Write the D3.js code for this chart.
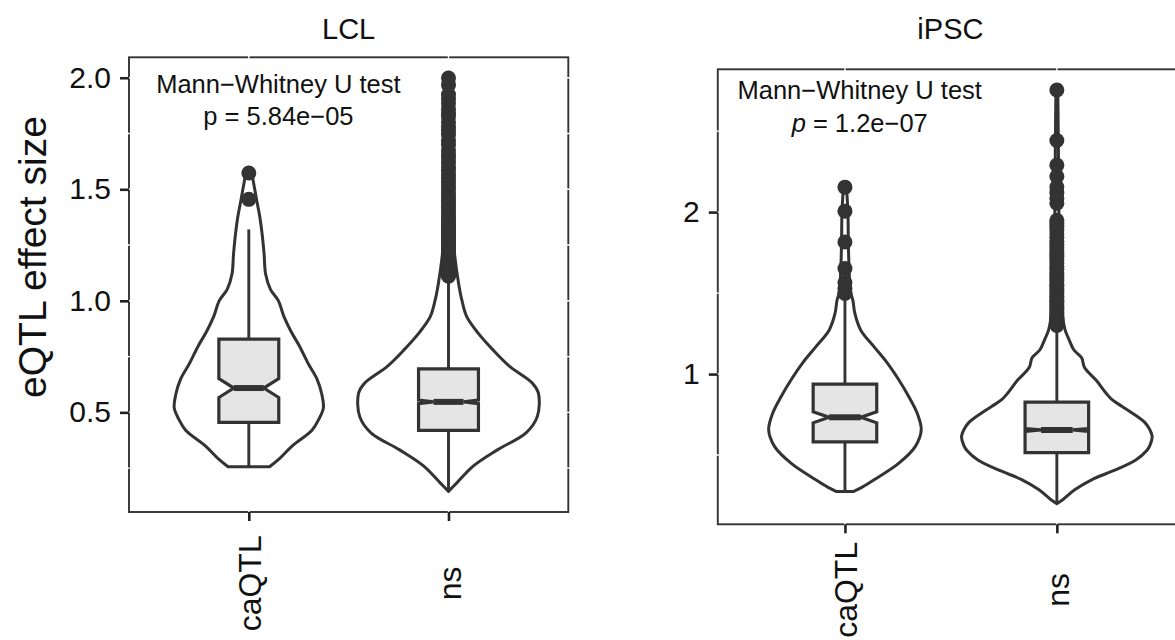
<!DOCTYPE html>
<html>
<head>
<meta charset="utf-8">
<script src="https://cdn.jsdelivr.net/npm/d3@7"></script>
<style>
  html, body { margin: 0; padding: 0; background: #fff; }
  svg { display: block; }
</style>
</head>
<body>
<svg id="chart" width="1175" height="640"></svg>
<script>
// ---- data -------------------------------------------------------------
const panels = ["LCL", "iPSC"];
const categories = ["caQTL", "ns"];

// box statistics: [lower whisker, Q1, median, Q3, upper whisker]
const lclCaqtlBox = [0.256, 0.455, 0.609, 0.828, 1.320];
const lclNsBox    = [0.146, 0.419, 0.547, 0.695, 1.100];
const ipscCaqtlBox = [0.275, 0.581, 0.733, 0.938, 1.470];
const ipscNsBox    = [0.200, 0.515, 0.655, 0.827, 1.290];

// number of eQTLs per group (sets the notch height)
const lclCounts  = [193, 3000];
const ipscCounts = [275, 3000];

// outlying effect sizes
const lclCaqtlOutliers = [1.455, 1.573];
const lclNsOutliers = [
  1.110, 1.115, 1.120, 1.125, 1.130, 1.135, 1.140, 1.145, 1.150, 1.155,
  1.160, 1.165, 1.170, 1.180, 1.190, 1.200, 1.210, 1.220, 1.230, 1.240,
  1.250, 1.260, 1.270, 1.280, 1.290, 1.300, 1.310, 1.320, 1.330, 1.340,
  1.350, 1.360, 1.375, 1.390, 1.405, 1.420, 1.435, 1.450, 1.465, 1.480,
  1.500, 1.515, 1.530, 1.550, 1.565, 1.585, 1.600, 1.620, 1.640, 1.655,
  1.675, 1.700, 1.720, 1.745, 1.765, 1.780, 1.800, 1.825, 1.840, 1.860,
  1.885, 1.905, 1.925, 1.968, 1.999
];
const ipscCaqtlOutliers = [1.497, 1.530, 1.563, 1.651, 1.815, 2.006, 2.154];
const ipscNsOutliers = [
  1.300, 1.310, 1.320, 1.330, 1.340, 1.350, 1.360, 1.375, 1.385, 1.400,
  1.410, 1.425, 1.440, 1.450, 1.465, 1.480, 1.495, 1.510, 1.525, 1.540,
  1.555, 1.575, 1.590, 1.610, 1.625, 1.645, 1.665, 1.685, 1.705, 1.725,
  1.745, 1.760, 1.780, 1.800, 1.820, 1.845, 1.865, 1.890, 1.910, 1.930,
  1.950, 2.055, 2.085, 2.120, 2.155, 2.220, 2.290, 2.442, 2.754
];

// violin outlines: [effect size, relative density]
const lclCaqtlViolin = [
  [0.256, 0.231], [0.29, 0.335], [0.35, 0.484], [0.42, 0.703], [0.47, 0.780],
  [0.52, 0.830], [0.58, 0.813], [0.65, 0.758], [0.72, 0.659], [0.80, 0.560],
  [0.86, 0.473], [0.93, 0.390], [1.00, 0.330], [1.05, 0.242], [1.12, 0.187],
  [1.21, 0.170], [1.30, 0.148], [1.38, 0.121], [1.45, 0.088], [1.50, 0.066],
  [1.573, 0.033]
];
const lclNsViolin = [
  [0.146, 0.0], [0.184, 0.093], [0.259, 0.275], [0.333, 0.549], [0.408, 0.863],
  [0.482, 0.989], [0.587, 1.0], [0.631, 0.934], [0.706, 0.681], [0.78, 0.495],
  [0.855, 0.330], [0.929, 0.203], [1.004, 0.148], [1.079, 0.112], [1.20, 0.070],
  [1.30, 0.050], [1.50, 0.035], [1.70, 0.025], [1.90, 0.020], [1.999, 0.012]
];
const ipscCaqtlViolin = [
  [0.275, 0.093], [0.30, 0.177], [0.347, 0.306], [0.45, 0.566], [0.552, 0.737],
  [0.655, 0.800], [0.758, 0.758], [0.86, 0.670], [0.963, 0.566], [1.066, 0.447],
  [1.168, 0.306], [1.271, 0.166], [1.374, 0.104], [1.456, 0.083], [1.50, 0.062],
  [1.60, 0.047], [1.80, 0.036], [2.00, 0.031], [2.154, 0.016]
];
const ipscNsViolin = [
  [0.200, 0.0], [0.224, 0.062], [0.285, 0.187], [0.35, 0.374], [0.40, 0.580],
  [0.47, 0.828], [0.53, 0.945], [0.56, 0.976], [0.614, 1.0], [0.655, 0.976],
  [0.70, 0.924], [0.76, 0.789], [0.80, 0.685], [0.84, 0.582], [0.88, 0.519],
  [0.96, 0.415], [1.04, 0.290], [1.10, 0.260], [1.15, 0.177], [1.21, 0.130],
  [1.27, 0.088], [1.35, 0.062], [1.50, 0.042], [1.70, 0.031], [2.00, 0.021],
  [2.40, 0.016], [2.754, 0.010]
];

// axis breaks and annotation text
const lclTicks = [0.5, 1.0, 1.5, 2.0];
const lclMinorTicks = [0.25, 0.75, 1.25, 1.75];
const ipscTicks = [1, 2];
const ipscMinorTicks = [0.5, 1.5, 2.5];
const testName = "Mann\u2212Whitney U test";
const pValues = ["5.84e\u221205", "1.2e\u221207"];
const yTitle = "eQTL effect size";

// ---- assemble per-panel inputs ----------------------------------------
const panelData = {
  LCL: {
    boxes: [lclCaqtlBox, lclNsBox], counts: lclCounts,
    outliers: [lclCaqtlOutliers, lclNsOutliers],
    violins: [lclCaqtlViolin, lclNsViolin],
    ticks: lclTicks, minor: lclMinorTicks, fmt: d3.format(".1f"),
    p: pValues[0], italicP: false
  },
  iPSC: {
    boxes: [ipscCaqtlBox, ipscNsBox], counts: ipscCounts,
    outliers: [ipscCaqtlOutliers, ipscNsOutliers],
    violins: [ipscCaqtlViolin, ipscNsViolin],
    ticks: ipscTicks, minor: ipscMinorTicks, fmt: d3.format("d"),
    p: pValues[1], italicP: true
  }
};

// ---- layout -----------------------------------------------------------
const FONT = "'Liberation Sans', Arial, Helvetica, sans-serif";
const INK = "#333333";
const layout = {
  LCL:  { left: 129,   right: 568.3, top: 57.3, bottom: 512,   noteX: 278.4, noteY: 35.4, xLabY: 71.3 },
  iPSC: { left: 717.8, right: 1184,  top: 69.3, bottom: 524.3, noteX: 859.7, noteY: 30.0, xLabY: 65.5 }
};

const svg = d3.select("#chart");

svg.append("text")
  .attr("transform", "translate(46,257) rotate(-90)")
  .attr("text-anchor", "middle")
  .style("font-family", FONT)
  .style("font-size", "39px")
  .attr("fill", "#111")
  .text(yTitle);

panels.forEach(name => {
  const L = layout[name];
  const D = panelData[name];
  const g = svg.append("g");

  // y domain: data range expanded by 5% on both sides
  const allVals = [];
  D.boxes.forEach(b => allVals.push(...b));
  D.outliers.forEach(o => allVals.push(...o));
  D.violins.forEach(v => v.forEach(p => allVals.push(p[0])));
  const [lo, hi] = d3.extent(allVals);
  const pad = (hi - lo) * 0.05;
  const y = d3.scaleLinear().domain([lo - pad, hi + pad]).range([L.bottom, L.top]);
  const x = d3.scalePoint().domain(categories).range([L.left, L.right]).padding(0.6);
  const step = x.step();
  const halfWidth = d3.scaleLinear().domain([0, 1]).range([0, 0.45 * step]);
  const boxW = 0.3 * step;

  // panel background with outline
  g.append("rect")
    .attr("x", L.left).attr("y", L.top)
    .attr("width", L.right - L.left).attr("height", L.bottom - L.top)
    .attr("fill", "#fff").attr("stroke", INK).attr("stroke-width", 1.9);

  // white grid lines (visible where they cross the outline)
  const grid = g.append("g").attr("stroke", "#fff").attr("stroke-width", 1.4);
  D.ticks.concat(D.minor).forEach(v => {
    const yy = y(v);
    if (yy < L.top || yy > L.bottom) return;
    grid.append("line").attr("x1", L.left - 2).attr("x2", L.right + 2)
      .attr("y1", yy).attr("y2", yy);
  });
  categories.forEach(c => {
    grid.append("line").attr("y1", L.top - 2).attr("y2", L.bottom + 2)
      .attr("x1", x(c)).attr("x2", x(c));
  });

  // violins
  categories.forEach((c, i) => {
    const cx = x(c);
    const area = d3.area()
      .curve(d3.curveCatmullRom.alpha(0.5))
      .y(d => y(d[0]))
      .x0(d => cx - halfWidth(d[1]))
      .x1(d => cx + halfWidth(d[1]));
    g.append("path")
      .datum(D.violins[i])
      .attr("d", area)
      .attr("fill", "#fff")
      .attr("stroke", INK)
      .attr("stroke-width", 3)
      .attr("stroke-linejoin", "round");
  });

  // notched boxplots
  categories.forEach((c, i) => {
    const cx = x(c);
    const [wLo, q1, med, q3, wHi] = D.boxes[i];
    const notch = 1.58 * (q3 - q1) / Math.sqrt(D.counts[i]);
    const hw = boxW / 2, nw = boxW / 4;

    g.append("line")
      .attr("x1", cx).attr("x2", cx).attr("y1", y(q3)).attr("y2", y(wHi))
      .attr("stroke", INK).attr("stroke-width", 2.9);
    g.append("line")
      .attr("x1", cx).attr("x2", cx).attr("y1", y(q1)).attr("y2", y(wLo))
      .attr("stroke", INK).attr("stroke-width", 2.9);

    const pts = [
      [cx - hw, y(q3)], [cx + hw, y(q3)], [cx + hw, y(med + notch)], [cx + nw, y(med)],
      [cx + hw, y(med - notch)], [cx + hw, y(q1)], [cx - hw, y(q1)], [cx - hw, y(med - notch)],
      [cx - nw, y(med)], [cx - hw, y(med + notch)]
    ];
    g.append("path")
      .attr("d", "M" + pts.map(p => p.join(",")).join("L") + "Z")
      .attr("fill", "#e5e5e5")
      .attr("stroke", INK)
      .attr("stroke-width", 3.2)
      .attr("stroke-linejoin", "miter");
    g.append("line")
      .attr("x1", cx - nw).attr("x2", cx + nw).attr("y1", y(med)).attr("y2", y(med))
      .attr("stroke", INK).attr("stroke-width", 6);

    g.append("g").selectAll("circle")
      .data(D.outliers[i])
      .join("circle")
      .attr("cx", cx).attr("cy", d => y(d)).attr("r", 7.5)
      .attr("fill", INK);
  });

  // y axis
  const yAxis = g.append("g")
    .attr("transform", `translate(${L.left},0)`)
    .call(d3.axisLeft(y).tickValues(D.ticks).tickFormat(D.fmt).tickSize(9).tickPadding(9));
  yAxis.select(".domain").remove();
  yAxis.selectAll(".tick line").attr("stroke", "#222").attr("stroke-width", 2.6);
  yAxis.selectAll(".tick text")
    .attr("fill", "#111").style("font-family", FONT).style("font-size", "30px");

  // x axis
  const xAxis = g.append("g")
    .attr("transform", `translate(0,${L.bottom})`)
    .call(d3.axisBottom(x).tickSize(9));
  xAxis.select(".domain").remove();
  xAxis.selectAll(".tick line").attr("stroke", "#222").attr("stroke-width", 2.6);
  xAxis.selectAll(".tick text")
    .attr("fill", "#111").style("font-family", FONT).style("font-size", "32px")
    .attr("text-anchor", "middle")
    .attr("x", 0).attr("y", 0).attr("dy", "0.36em")
    .attr("transform", `translate(0,${L.xLabY}) rotate(-90)`);

  // panel strip title
  svg.append("text")
    .attr("x", (L.left + Math.min(L.right, 1183)) / 2).attr("y", 39.3)
    .attr("text-anchor", "middle")
    .style("font-family", FONT).style("font-size", "29px")
    .attr("fill", "#111")
    .text(name);

  // test annotation
  const note = svg.append("g").style("font-family", FONT).style("font-size", "25.5px").attr("fill", "#111");
  note.append("text")
    .attr("x", L.noteX).attr("y", L.top + L.noteY)
    .attr("text-anchor", "middle").text(testName);
  const pLine = note.append("text")
    .attr("x", L.noteX).attr("y", L.top + L.noteY + 32.3)
    .attr("text-anchor", "middle");
  pLine.append("tspan").style("font-style", D.italicP ? "italic" : "normal").text("p");
  pLine.append("tspan").text(" = " + D.p);
});
</script>
</body>
</html>
